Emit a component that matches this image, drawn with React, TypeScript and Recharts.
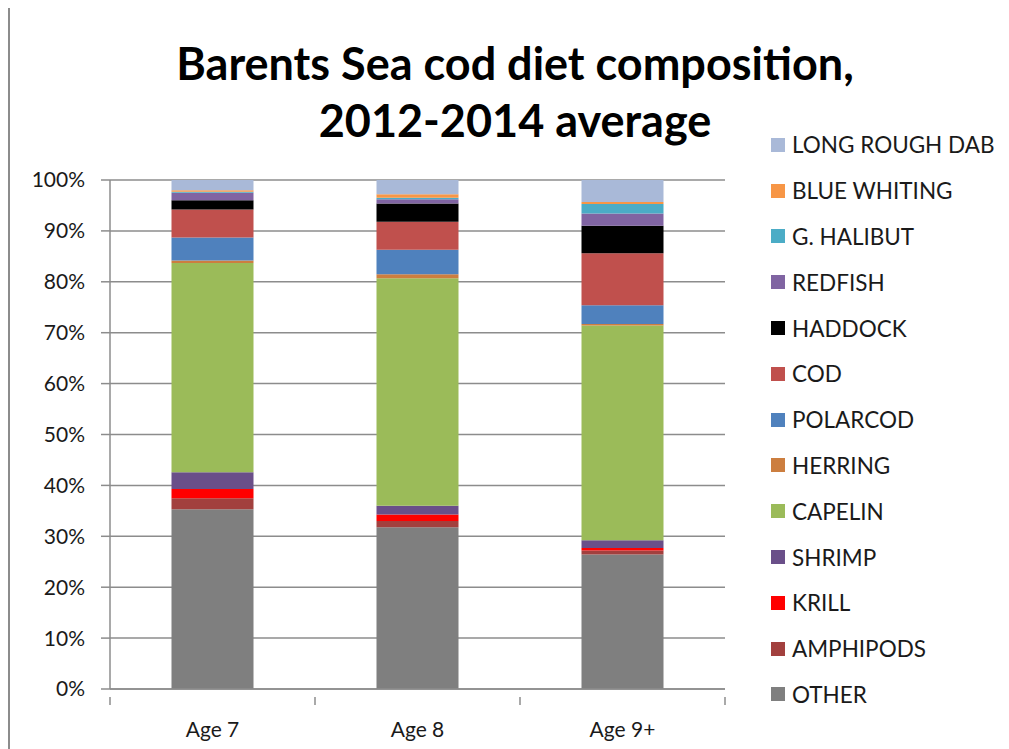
import React from "react";
import { BarChart, Bar, XAxis, YAxis, CartesianGrid } from "recharts";

const categories = ["Age 7", "Age 8", "Age 9+"];
const other = [35.3, 31.8, 26.4];
const amphipods = [2.2, 1.2, 0.8];
const krill = [1.8, 1.3, 0.5];
const shrimp = [3.3, 1.7, 1.5];
const capelin = [41.1, 44.7, 42.2];
const herring = [0.5, 0.8, 0.3];
const polarcod = [4.5, 4.8, 3.7];
const cod = [5.5, 5.5, 10.2];
const haddock = [1.8, 3.6, 5.4];
const redfish = [1.5, 0.8, 2.4];
const ghalibut = [0.2, 0.3, 1.9];
const blueWhiting = [0.3, 0.7, 0.4];
const longRoughDab = [2.0, 2.8, 4.3];
const yTicks = [0, 10, 20, 30, 40, 50, 60, 70, 80, 90, 100];

const seriesDefs = [
  { key: "OTHER", values: other, color: "#7F7F7F" },
  { key: "AMPHIPODS", values: amphipods, color: "#A2403E" },
  { key: "KRILL", values: krill, color: "#FF0000" },
  { key: "SHRIMP", values: shrimp, color: "#6A4F89" },
  { key: "CAPELIN", values: capelin, color: "#9BBB59" },
  { key: "HERRING", values: herring, color: "#CC7E3F" },
  { key: "POLARCOD", values: polarcod, color: "#4F81BD" },
  { key: "COD", values: cod, color: "#C0504D" },
  { key: "HADDOCK", values: haddock, color: "#000000" },
  { key: "REDFISH", values: redfish, color: "#8064A2" },
  { key: "G. HALIBUT", values: ghalibut, color: "#4BACC6" },
  { key: "BLUE WHITING", values: blueWhiting, color: "#F79646" },
  { key: "LONG ROUGH DAB", values: longRoughDab, color: "#A9B9D8" },
];

const data = categories.map((c, i) => {
  const row: Record<string, any> = { name: c };
  seriesDefs.forEach((s) => (row[s.key] = s.values[i]));
  return row;
});

const FONT = "Lato, 'Open Sans', sans-serif";
const AXIS = "#8C8C8C";

const XTick = (props: any) => {
  const { x, y, payload } = props;
  const off = payload && payload.offset ? payload.offset : 0;
  return (
    <g>
      {off > 0 && payload.index === 0 && (
        <line x1={x - off} x2={x - off} y1={y} y2={y + 8} stroke={AXIS} strokeWidth={1.5} />
      )}
      {off > 0 && (
        <line x1={x + off} x2={x + off} y1={y} y2={y + 8} stroke={AXIS} strokeWidth={1.5} />
      )}
      <text x={x} y={y + 40} textAnchor="middle" fontSize={21} fill="#1a1a1a" fontFamily={FONT}>
        {payload.value}
      </text>
    </g>
  );
};

const LegendBox = () => {
  const items = [...seriesDefs].reverse();
  return (
    <div style={{ position: "absolute", left: 763, top: 117, fontFamily: FONT }}>
      {items.map((s) => (
        <div key={s.key} style={{ display: "flex", alignItems: "center", height: 45.8 }}>
          <div style={{ width: 14, height: 14, background: s.color, marginRight: 7 }} />
          <span style={{ fontSize: 22.5, color: "#1a1a1a", whiteSpace: "nowrap" }}>{s.key}</span>
        </div>
      ))}
    </div>
  );
};

export default function App() {
  return (
    <div style={{ position: "relative", width: 1001, height: 744, top: -3, background: "#fff" }}>
      <BarChart
        width={1001}
        height={744}
        data={data}
        margin={{ top: 175, right: 284, left: 0, bottom: 10 }}
        barCategoryGap="30%"
      >
        <CartesianGrid vertical={false} stroke={AXIS} strokeWidth={1.5} />
        <XAxis
          dataKey="name"
          height={50}
          axisLine={{ stroke: AXIS, strokeWidth: 1.5 }}
          tickLine={false}
          tick={<XTick />}
          interval={0}
        />
        <YAxis
          width={102}
          domain={[0, 100]}
          ticks={yTicks}
          tickFormatter={(v: number) => `${v}%`}
          axisLine={{ stroke: AXIS, strokeWidth: 1.5 }}
          tickLine={{ stroke: AXIS, strokeWidth: 1.5 }}
          tickSize={9}
          tickMargin={16}
          tick={{ fontSize: 21, fill: "#1a1a1a", fontFamily: FONT }}
          allowDataOverflow
        />
        {seriesDefs.map((s) => (
          <Bar key={s.key} dataKey={s.key} stackId="a" fill={s.color} isAnimationActive={false} />
        ))}
      </BarChart>
      <LegendBox />
      <div
        style={{
          position: "absolute",
          left: 0,
          width: 1014,
          top: 30,
          textAlign: "center",
          fontFamily: FONT,
          fontWeight: 700,
          fontSize: 45,
          lineHeight: "57px",
          color: "#000",
        }}
      >
        Barents Sea cod diet composition,
        <br />
        2012-2014 average
      </div>
      <div
        style={{
          position: "absolute",
          left: 0,
          top: 0,
          width: 1001,
          height: 3,
          background: "#999999",
          zIndex: 10,
        }}
      />
      <div
        style={{
          position: "absolute",
          left: 0,
          top: 0,
          width: 2,
          height: 744,
          background: AXIS,
          zIndex: 10,
        }}
      />
    </div>
  );
}
